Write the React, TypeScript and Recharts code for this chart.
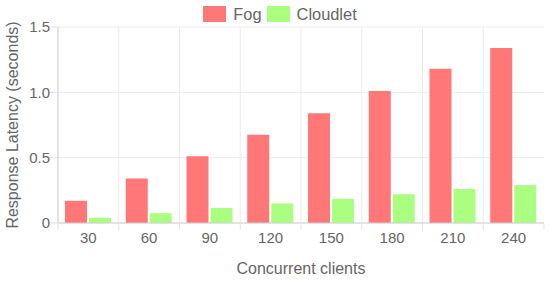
import { BarChart, Bar, XAxis, YAxis, CartesianGrid, Legend, Label } from 'recharts'

const clients = ['30', '60', '90', '120', '150', '180', '210', '240']
const fog = [0.17, 0.34, 0.51, 0.675, 0.84, 1.01, 1.18, 1.34]
const cloudlet = [0.04, 0.075, 0.115, 0.15, 0.185, 0.22, 0.26, 0.29]
const yTicks = [0, 0.5, 1, 1.5]
const seriesOrder = ['Fog', 'Cloudlet']

const data = clients.map((c, i) => ({ clients: c, Fog: fog[i], Cloudlet: cloudlet[i] }))

const FOG = '#ff7777'
const CLOUDLET = '#aaff80'
const TEXT = '#666'
const FONT = '"Liberation Sans", Arial, sans-serif'

function XTick(props: any) {
  const { x, y, payload, width, visibleTicksCount, index } = props
  const bw = width / visibleTicksCount
  return (
    <g>
      <line x1={x - bw / 2} x2={x - bw / 2} y1={y} y2={y + 7} stroke="#e5e5e5" />
      {index === visibleTicksCount - 1 && (
        <line x1={x + bw / 2} x2={x + bw / 2} y1={y} y2={y + 7} stroke="#e5e5e5" />
      )}
      <text x={x} y={y + 20} textAnchor="middle" fill={TEXT} fontSize={15} fontFamily={FONT}>
        {payload.value}
      </text>
    </g>
  )
}

function LegendContent(props: any) {
  const items = [...(props.payload || [])].sort(
    (a: any, b: any) => seriesOrder.indexOf(a.value) - seriesOrder.indexOf(b.value)
  )
  return (
    <div style={{ display: 'flex', justifyContent: 'center', paddingLeft: 10, fontFamily: FONT, fontSize: 16.4, color: TEXT, height: 18 }}>
      {items.map((p: any, i: number) => (
        <div key={p.value} style={{ display: 'flex', alignItems: 'center', marginLeft: i ? 5 : 0 }}>
          <span style={{ width: 23, height: 16, background: p.color, marginRight: 7, display: 'inline-block' }} />
          <span>{p.value}</span>
        </div>
      ))}
    </div>
  )
}

export default function App() {
  return (
    <div style={{ position: 'absolute', left: 0, top: 0 }}>
      <BarChart
        width={550}
        height={281}
        data={data}
        margin={{ top: 9, right: 6, bottom: 0, left: 0 }}
        barSize={22}
        barGap={2}
      >
        <CartesianGrid
          stroke="#ebebeb"
          verticalCoordinatesGenerator={({ offset }: any) =>
            clients.map((_, i) => offset.left + (i * offset.width) / clients.length)
          }
        />
        <XAxis
          dataKey="clients"
          height={58}
          stroke="#d0d0d0"
          tickLine={false}
          tickSize={0}
          tickMargin={0}
          tick={<XTick />}
          interval={0}
        >
          <Label
            content={({ viewBox }: any) => (
              <text
                x={viewBox.x + viewBox.width / 2}
                y={274}
                textAnchor="middle"
                fill={TEXT}
                fontSize={16}
                fontFamily={FONT}
              >
                Concurrent clients
              </text>
            )}
          />
        </XAxis>
        <YAxis
          width={58}
          domain={[0, 1.5]}
          ticks={yTicks}
          stroke="#d0d0d0"
          tickSize={8}
          tickMargin={0}
          tickLine={{ stroke: '#e0e0e0' }}
          tick={{ fill: TEXT, fontSize: 15, fontFamily: FONT }}
          tickFormatter={(v: number) => (v === 0 ? '0' : v.toFixed(1))}
        >
          <Label
            content={({ viewBox }: any) => (
              <text
                transform={`translate(18, ${viewBox.y + viewBox.height / 2}) rotate(-90)`}
                textAnchor="middle"
                fill={TEXT}
                fontSize={16}
                fontFamily={FONT}
              >
                Response Latency (seconds)
              </text>
            )}
          />
        </YAxis>
        <Legend
          verticalAlign="top"
          wrapperStyle={{ top: 5, left: 0, width: 550 }}
          content={<LegendContent />}
        />
        <Bar dataKey="Fog" fill={FOG} isAnimationActive={false} />
        <Bar dataKey="Cloudlet" fill={CLOUDLET} isAnimationActive={false} />
      </BarChart>
    </div>
  )
}
